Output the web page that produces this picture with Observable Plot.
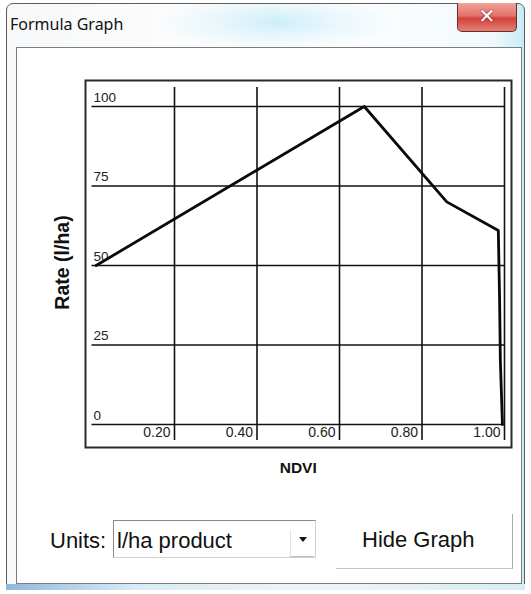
<!DOCTYPE html>
<html>
<head>
<meta charset="utf-8">
<script src="https://cdn.jsdelivr.net/npm/d3@7"></script>
<script src="https://cdn.jsdelivr.net/npm/@observablehq/plot@0.6"></script>
<style>
  html, body { margin: 0; padding: 0; background: #ffffff; }
  body { width: 531px; height: 594px; position: relative; overflow: hidden; font-family: "Liberation Sans", Arial, sans-serif; }
  .win { position: absolute; left: 6px; top: 3px; width: 517px; height: 585px; border: 1px solid #5b5b5b; border-radius: 7px 7px 2px 2px;
         background: radial-gradient(ellipse 120px 30px at 270px 18px, #cdeefa 0%, rgba(220,242,250,0.6) 50%, rgba(255,255,255,0) 100%),
                     linear-gradient(to right, #f7f8f9 0%, #ffffff 60%, #f2f9fc 94%, #c6ecf7 100%); }
  .title { position: absolute; left: 10px; top: 13px; font-family: "Noto Sans", "Open Sans", sans-serif; font-size: 16px; color: #111; }
  .close { position: absolute; left: 457px; top: 3px; width: 58px; height: 28px; border: 1px solid #6d2b2b; border-top: none; border-radius: 0 0 5px 5px;
           background: linear-gradient(to bottom, #f0a39c 0%, #e2736a 45%, #d2443b 55%, #e47e75 100%); }
  .close span { position: absolute; left: 0; right: 0; top: 1px; text-align: center; color: #fff; font: bold 20px "DejaVu Sans", sans-serif; text-shadow: 0 0 2px #5a1a1a; }
  .panel { position: absolute; left: 16px; top: 47px; width: 504px; height: 535px; background: #ffffff; border: 1px solid #7d7d7d; }
  .bottomglow { position: absolute; left: 6px; top: 584px; width: 519px; height: 6px; background: linear-gradient(to right, #8fb8dc 0%, #d9ebf6 25%, #eef5fa 60%, #d8ecf6 100%); }
  #chart { position: absolute; left: 30px; top: 70px; }
  .lbl { position: absolute; font-size: 22px; color: #111; line-height: 1; }
  .combo { position: absolute; left: 113px; top: 520px; width: 201px; height: 36px; border: 1px solid #8a8a8a; border-right-color: #d0d0d0; border-bottom-color: #d0d0d0; background: #fff; }
  .combobtn { position: absolute; left: 290px; top: 530px; width: 23px; height: 26px; border-left: 1px solid #e2e2e2; border-bottom: 1px solid #bdbdbd; }
  .arrow { position: absolute; left: 299px; top: 537px; width: 0; height: 0; border-left: 4px solid transparent; border-right: 4px solid transparent; border-top: 5px solid #111; }
  .btn { position: absolute; left: 336px; top: 514px; width: 176px; height: 54px; border-right: 1px solid #a9a9a9; border-bottom: 1px solid #c4c4c4; }
</style>
</head>
<body>
<div class="win"></div>
<div class="title">Formula Graph</div>
<div class="close"><span>✕</span></div>
<div class="panel"></div>
<div class="bottomglow"></div>
<div id="chart"></div>
<div class="lbl" style="left:50px; top:530px;">Units:</div>
<div class="combo"></div>
<div class="lbl" style="left:117px; top:530px;">l/ha product</div>
<div class="combobtn"></div>
<div class="arrow"></div>
<div class="btn"></div>
<div class="lbl" style="left:362px; top:529px;">Hide Graph</div>
<script>
// Data
const ndvi = [0.01, 0.66, 0.86, 0.985, 0.988, 0.99, 0.995];
const rate = [50, 100, 70, 61, 40, 20, 0];
const xTicks = [0.2, 0.4, 0.6, 0.8, 1.0];
const xTickLabels = ["0.20", "0.40", "0.60", "0.80", "1.00"];
const yTicks = [0, 25, 50, 75, 100];
const yTickLabels = ["0", "25", "50", "75", "100"];
const xLabel = "NDVI";
const yLabel = "Rate (l/ha)";

const points = ndvi.map((x, i) => ({x, y: rate[i]}));

const chart = Plot.plot({
  width: 490,
  height: 420,
  marginLeft: 61.5,
  marginRight: 16,
  marginTop: 36,
  marginBottom: 66,
  style: {background: "transparent", fontFamily: "Liberation Sans, Arial, sans-serif", color: "#111"},
  x: {domain: [0, 1], nice: false},
  y: {domain: [0, 100], nice: false},
  marks: [
    Plot.frame({stroke: "#2a2a2a", strokeWidth: 2, insetLeft: -6.5, insetRight: -7, insetTop: -26, insetBottom: -23}),
    Plot.ruleY(yTicks, {stroke: "#111", strokeWidth: 1.5}),
    Plot.ruleX(xTicks, {stroke: "#111", strokeWidth: 1.6, insetTop: -19, insetBottom: -16}),
    Plot.axisX({ticks: xTicks, tickSize: 0, tickPadding: 3, label: null,
      tickFormat: d => xTickLabels[xTicks.findIndex(t => Math.abs(t - d) < 1e-9)],
      textAnchor: "end", dx: -4, fontSize: 14, fill: "#222"}),
    Plot.axisY({ticks: yTicks, tickSize: 0, tickPadding: 3, label: null,
      tickFormat: d => yTickLabels[yTicks.indexOf(d)],
      textAnchor: "start", dx: 4.5, dy: -9, fontSize: 13.5, fill: "#222"}),
    Plot.line(points, {x: "x", y: "y", stroke: "#0a0a0a", strokeWidth: 2.8, strokeLinejoin: "round"}),
    Plot.text([yLabel], {text: d => d, frameAnchor: "left", textAnchor: "middle", rotate: -90, dx: -29.5, dy: -3, fontSize: 19.5, fontWeight: "bold", fill: "#111"}),
    Plot.text([xLabel], {text: d => d, frameAnchor: "bottom", textAnchor: "middle", dy: 48, fontSize: 15.5, fontWeight: "bold", fill: "#111"})
  ]
});
document.getElementById("chart").appendChild(chart);
</script>
</body>
</html>
